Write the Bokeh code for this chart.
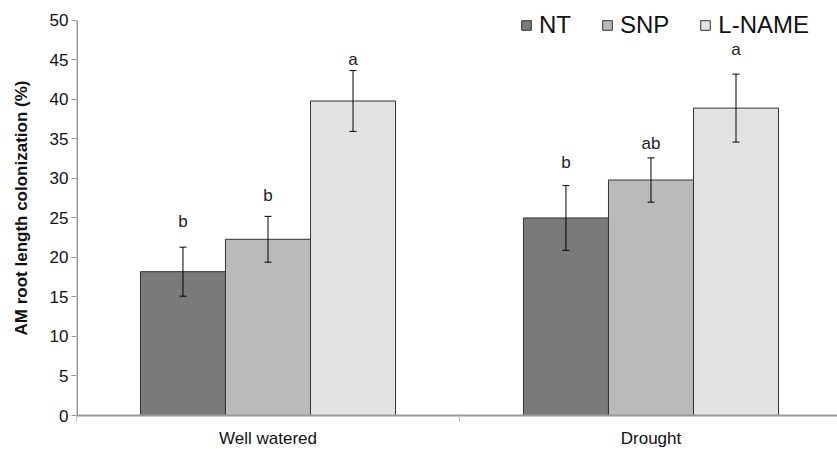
from bokeh.plotting import figure
from bokeh.models import (ColumnDataSource, Whisker, FixedTicker, Legend, LegendItem)
from bokeh.core.properties import value
from bokeh.embed import file_html
from bokeh.resources import INLINE

# ---- data ----
conditions = ["Well watered", "Drought"]
treatments = ["NT", "SNP", "L-NAME"]
colors = ["#7a7a7a", "#bababa", "#e2e2e2"]
means = {
    "NT": [18.2, 25.0],
    "SNP": [22.3, 29.8],
    "L-NAME": [39.8, 38.9],
}
errors = {
    "NT": [3.1, 4.1],
    "SNP": [2.9, 2.8],
    "L-NAME": [3.85, 4.3],
}
letters = {
    "NT": ["b", "b"],
    "SNP": ["b", "ab"],
    "L-NAME": ["a", "a"],
}
letter_y = {
    "NT": [24.6, 32.0],
    "SNP": [27.8, 34.4],
    "L-NAME": [45.0, 46.3],
}
y_ticks = list(range(0, 51, 5))
y_max = 50

FONT = "Liberation Sans"
bar_w = 0.222
px_per_unit = 397 / 50.0

p = figure(width=837, height=450, output_backend="svg", toolbar_location=None,
           x_range=(0, 1.987), y_range=(0, y_max + 20 / px_per_unit),
           min_border_left=76, min_border_right=0, min_border_top=0, min_border_bottom=33)
p.outline_line_color = None
p.grid.visible = False
p.background_fill_color = "white"
p.border_fill_color = "white"

# y axis line only up to the top tick
p.segment(x0=[0], y0=[0], x1=[0], y1=[y_max], line_color="#999999", line_width=3)

renderers = []
for k, t in enumerate(treatments):
    off = (k - 1) * bar_w
    xs = [i + 0.5 + off for i in range(len(conditions))]
    src = ColumnDataSource(dict(
        x=xs, top=means[t],
        upper=[m + e for m, e in zip(means[t], errors[t])],
        lower=[m - e for m, e in zip(means[t], errors[t])],
        lab=letters[t], ly=letter_y[t]))
    r = p.vbar(x="x", top="top", bottom=0, width=bar_w, source=src,
               fill_color=colors[k], line_color="#333333", line_width=1)
    renderers.append(r)
    w = Whisker(base="x", upper="upper", lower="lower", source=src,
                line_color="black", line_width=1, level="overlay")
    w.upper_head.size = 7
    w.lower_head.size = 7
    w.upper_head.line_color = "black"
    w.lower_head.line_color = "black"
    p.add_layout(w)
    p.text(x="x", y="ly", text="lab", source=src, text_align="center",
           text_baseline="middle", text_font=value(FONT), text_font_size="17px",
           text_color="#222222")

# axes
p.yaxis.ticker = FixedTicker(ticks=y_ticks)
p.yaxis.axis_label = "AM root length colonization (%)"
p.yaxis.axis_label_text_font = FONT
p.yaxis.axis_label_text_font_style = "bold"
p.yaxis.axis_label_text_font_size = "17px"
p.yaxis.axis_label_text_color = "#111111"
p.yaxis.axis_label_standoff = 16
p.yaxis.major_label_text_font = FONT
p.yaxis.major_label_text_font_size = "17px"
p.yaxis.major_label_text_color = "#111111"
p.yaxis.major_label_standoff = 3
p.yaxis.axis_line_color = None
p.yaxis.major_tick_line_color = "#999999"
p.yaxis.major_tick_out = 5
p.yaxis.major_tick_in = 0
p.yaxis.minor_tick_line_color = None

p.xaxis.ticker = FixedTicker(ticks=[0.5, 1.5], minor_ticks=[0, 1, 2])
p.xaxis.major_label_overrides = {0.5: conditions[0], 1.5: conditions[1]}
p.xaxis.major_label_text_font = FONT
p.xaxis.major_label_text_font_size = "17px"
p.xaxis.major_label_text_color = "#111111"
p.xaxis.major_label_standoff = 7
p.xaxis.major_tick_line_color = None
p.xaxis.axis_line_color = "#999999"
p.xaxis.axis_line_width = 2
p.xaxis.minor_tick_line_color = "#bbbbbb"
p.xaxis.minor_tick_out = 6
p.xaxis.minor_tick_in = 0

legend = Legend(items=[LegendItem(label=t, renderers=[r]) for t, r in zip(treatments, renderers)],
                orientation="horizontal", location=(444, 376),
                label_text_font=FONT, label_text_font_size="24px",
                label_text_color="#111111",
                glyph_width=12, glyph_height=12, label_standoff=7, spacing=30,
                padding=0, margin=0, border_line_color=None,
                background_fill_alpha=0)
p.add_layout(legend, "center")

open("out.html", "w").write(file_html(p, INLINE))
